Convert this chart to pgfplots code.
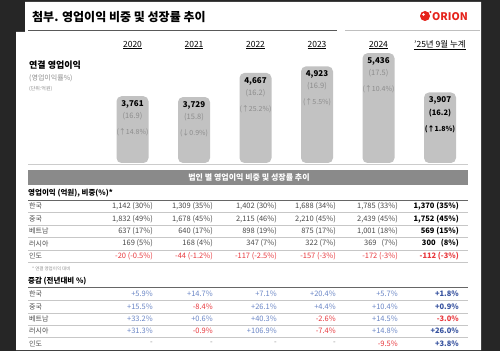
\documentclass[border=0pt]{standalone}
\usepackage{pgfplots}
\pgfplotsset{compat=1.18}
\usepackage{fontspec}
\setmainfont{Noto Sans CJK KR}
\definecolor{frame}{HTML}{262626}
\definecolor{barfill}{HTML}{C2C2C2}
\definecolor{hdr}{HTML}{8A8A8A}
\definecolor{labgray}{HTML}{8C8C8C}
\definecolor{txt}{HTML}{4A4A4A}
\definecolor{posb}{HTML}{6A86C6}
\definecolor{posbb}{HTML}{34509E}
\definecolor{negr}{HTML}{E8383D}
\definecolor{orired}{HTML}{E5231B}
\newcommand\barlab[3]{{\fontsize{8}{8}\selectfont\textbf{#1}}\\[0.5pt]{\fontsize{7.5}{8}\selectfont\color{labgray}(#2)}\\[4pt]{\fontsize{7}{8}\selectfont\color{labgray}(#3)}}
\newcommand\barlabk[3]{{\fontsize{8}{8}\selectfont\textbf{#1}}\\[0.5pt]{\fontsize{7.5}{8}\selectfont\textbf{(#2)}}\\[4pt]{\fontsize{7}{8}\selectfont\textbf{(#3)}}}
\def\labA{\barlab{3,761}{16.9}{↑14.8\%}}
\def\labB{\barlab{3,729}{15.8}{↓0.9\%}}
\def\labC{\barlab{4,667}{16.2}{↑25.2\%}}
\def\labD{\barlab{4,923}{16.9}{↑5.5\%}}
\def\labE{\barlab{5,436}{17.5}{↑10.4\%}}
\def\labF{\barlabk{3,907}{16.2}{↑1.8\%}}
\newcommand\G[1]{\textcolor{txt}{#1}}
\newcommand\K[1]{\textcolor{black}{\textbf{#1}}}
\newcommand\R[1]{\textcolor{negr}{#1}}
\newcommand\RB[1]{\textcolor{negr}{\textbf{#1}}}
\newcommand\B[1]{\textcolor{posb}{#1}}
\newcommand\BB[1]{\textcolor{posbb}{\textbf{#1}}}
\newcommand\D{\textcolor{labgray}{-}}
\newcommand\trow[8]{%
  \node[anchor=west,cell,font=\fontsize{7}{8}\selectfont] at (29,{351-#1}) {\G{#2}};
  \node[anchor=east,cell] at (153,{351-#1}) {#3};
  \node[anchor=east,cell] at (213,{351-#1}) {#4};
  \node[anchor=east,cell] at (277,{351-#1}) {#5};
  \node[anchor=east,cell] at (336,{351-#1}) {#6};
  \node[anchor=east,cell] at (398,{351-#1}) {#7};
  \node[anchor=east,cell] at (459,{351-#1}) {#8};
}
\newcommand\hl[1]{\draw[color=black!22, line width=0.5pt] (28,{351-#1}) -- (468,{351-#1});}
\begin{document}
\begin{tikzpicture}[x=1pt,y=1pt,cell/.style={inner sep=0pt,font=\fontsize{7.5}{8}\selectfont}]
\useasboundingbox (0,0) rectangle (500,351);
\fill[frame] (0,0) rectangle (500,351);
\fill[white] (25,349) -- (481,349) -- (481,1) -- (16,1) -- (16,319) -- (25,319) -- cycle;
% title
\node[anchor=west, inner sep=0pt, font=\fontsize{12}{14}\selectfont\bfseries] at (32,334) {첨부. 영업이익 비중 및 성장률 추이};
\draw[color=black!65, line width=1pt] (28,320) -- (337,320);
\draw[color=black!25, line width=1pt] (345,320) -- (480,320);
% logo
\fill[orired] (425,335) circle (5);
\fill[white] (423.5,336.5) circle (1.3);
\fill[orired] (430.5,339) circle (1.2);
\node[anchor=west, inner sep=0pt, text=orired, font=\fontsize{10.5}{12}\selectfont\bfseries] at (432,334.5) {ORION};
% left labels
\node[anchor=west, inner sep=0pt, font=\fontsize{9}{10}\selectfont\bfseries] at (29,286) {연결 영업이익};
\node[anchor=west, inner sep=0pt, text=labgray, font=\fontsize{7}{8}\selectfont] at (29,273) {(영업이익률\%)};
\node[anchor=west, inner sep=0pt, text=labgray, font=\fontsize{5}{6}\selectfont] at (29,262.5) {(단위:억원)};
% bar chart
\begin{axis}[
  at={(71pt,188pt)}, anchor=south west,
  scale only axis, width=430.5pt, height=113pt,
  xmin=-1, xmax=6, ymin=1160, ymax=5560,
  axis line style={draw=none},
  ytick=\empty,
  xtick={0,1,2,3,4,5},
  xticklabels={\underline{2020},\underline{2021},\underline{2022},\underline{2023},\underline{2024},\underline{'25년 9월 누계}},
  xticklabel pos=upper,
  major tick length=0pt,
  xticklabel style={font=\fontsize{8.5}{9}\selectfont, anchor=base, yshift=3pt},
  ybar, bar width=32pt,
  point meta=explicit symbolic,
  nodes near coords={\csname lab\pgfplotspointmeta\endcsname},
  nodes near coords style={anchor=north, align=center, inner sep=0pt, yshift=-4pt},
]
\addplot[fill=barfill, draw=none, rounded corners=5pt] coordinates {(0,3761)[A] (1,3729)[B] (2,4667)[C] (3,4923)[D] (4,5436)[E] (5,3907)[F]};
\end{axis}
\draw[color=black!20, line width=1pt] (28,{351-164.3}) -- (468,{351-164.3});
% header bar
\fill[hdr] (28,{351-185}) rectangle (468,{351-170});
\node[text=white, inner sep=0pt, font=\fontsize{8}{9}\selectfont\bfseries] at (249,{351-177.5}) {법인 별 영업이익 비중 및 성장률 추이};
% table 1
\node[anchor=west, inner sep=0pt, font=\fontsize{7.5}{9}\selectfont\bfseries] at (28,{351-193.5}) {영업이익 (억원), 비중(\%)*};
\draw[color=black!60, line width=0.7pt] (28,{351-200.7}) -- (468,{351-200.7});
\hl{212.5}\hl{225}\hl{237.3}\hl{250}\hl{262.7}
\trow{206}{한국}{\G{1,142 (30\%)}}{\G{1,309 (35\%)}}{\G{1,402 (30\%)}}{\G{1,688 (34\%)}}{\G{1,785 (33\%)}}{\K{1,370 (35\%)}}
\trow{219}{중국}{\G{1,832 (49\%)}}{\G{1,678 (45\%)}}{\G{2,115 (46\%)}}{\G{2,210 (45\%)}}{\G{2,439 (45\%)}}{\K{1,752 (45\%)}}
\trow{231}{베트남}{\G{637 (17\%)}}{\G{640 (17\%)}}{\G{898 (19\%)}}{\G{875 (17\%)}}{\G{1,001 (18\%)}}{\K{569 (15\%)}}
\trow{243.5}{러시아}{\G{169 (5\%)}}{\G{168 (4\%)}}{\G{347 (7\%)}}{\G{322 (7\%)}}{\G{369 \ \ (7\%)}}{\K{300 \ \ (8\%)}}
\trow{256}{인도}{\R{-20 (-0.5\%)}}{\R{-44 (-1.2\%)}}{\R{-117 (-2.5\%)}}{\R{-157 (-3\%)}}{\R{-172 (-3\%)}}{\RB{-112 (-3\%)}}
\node[anchor=west, inner sep=0pt, text=labgray, font=\fontsize{4.5}{5}\selectfont] at (32,{351-268.5}) {* 연결 영업이익 대비};
% table 2
\node[anchor=west, inner sep=0pt, font=\fontsize{7.5}{9}\selectfont\bfseries] at (28,{351-280.7}) {증감 (전년대비 \%)};
\draw[color=black!60, line width=0.7pt] (28,{351-287.7}) -- (468,{351-287.7});
\hl{300.7}\hl{313}\hl{325.3}\hl{337.7}
\trow{294}{한국}{\B{+5.9\%}}{\B{+14.7\%}}{\B{+7.1\%}}{\B{+20.4\%}}{\B{+5.7\%}}{\BB{+1.8\%}}
\trow{306.7}{중국}{\B{+15.5\%}}{\R{-8.4\%}}{\B{+26.1\%}}{\B{+4.4\%}}{\B{+10.4\%}}{\BB{+0.9\%}}
\trow{318.5}{베트남}{\B{+33.2\%}}{\B{+0.6\%}}{\B{+40.3\%}}{\R{-2.6\%}}{\B{+14.5\%}}{\RB{-3.0\%}}
\trow{331}{러시아}{\B{+31.3\%}}{\R{-0.9\%}}{\B{+106.9\%}}{\R{-7.4\%}}{\B{+14.8\%}}{\BB{+26.0\%}}
\trow{343.5}{인도}{\D}{\D}{\D}{\D}{\R{-9.5\%}}{\BB{+3.8\%}}
\end{tikzpicture}
\end{document}
